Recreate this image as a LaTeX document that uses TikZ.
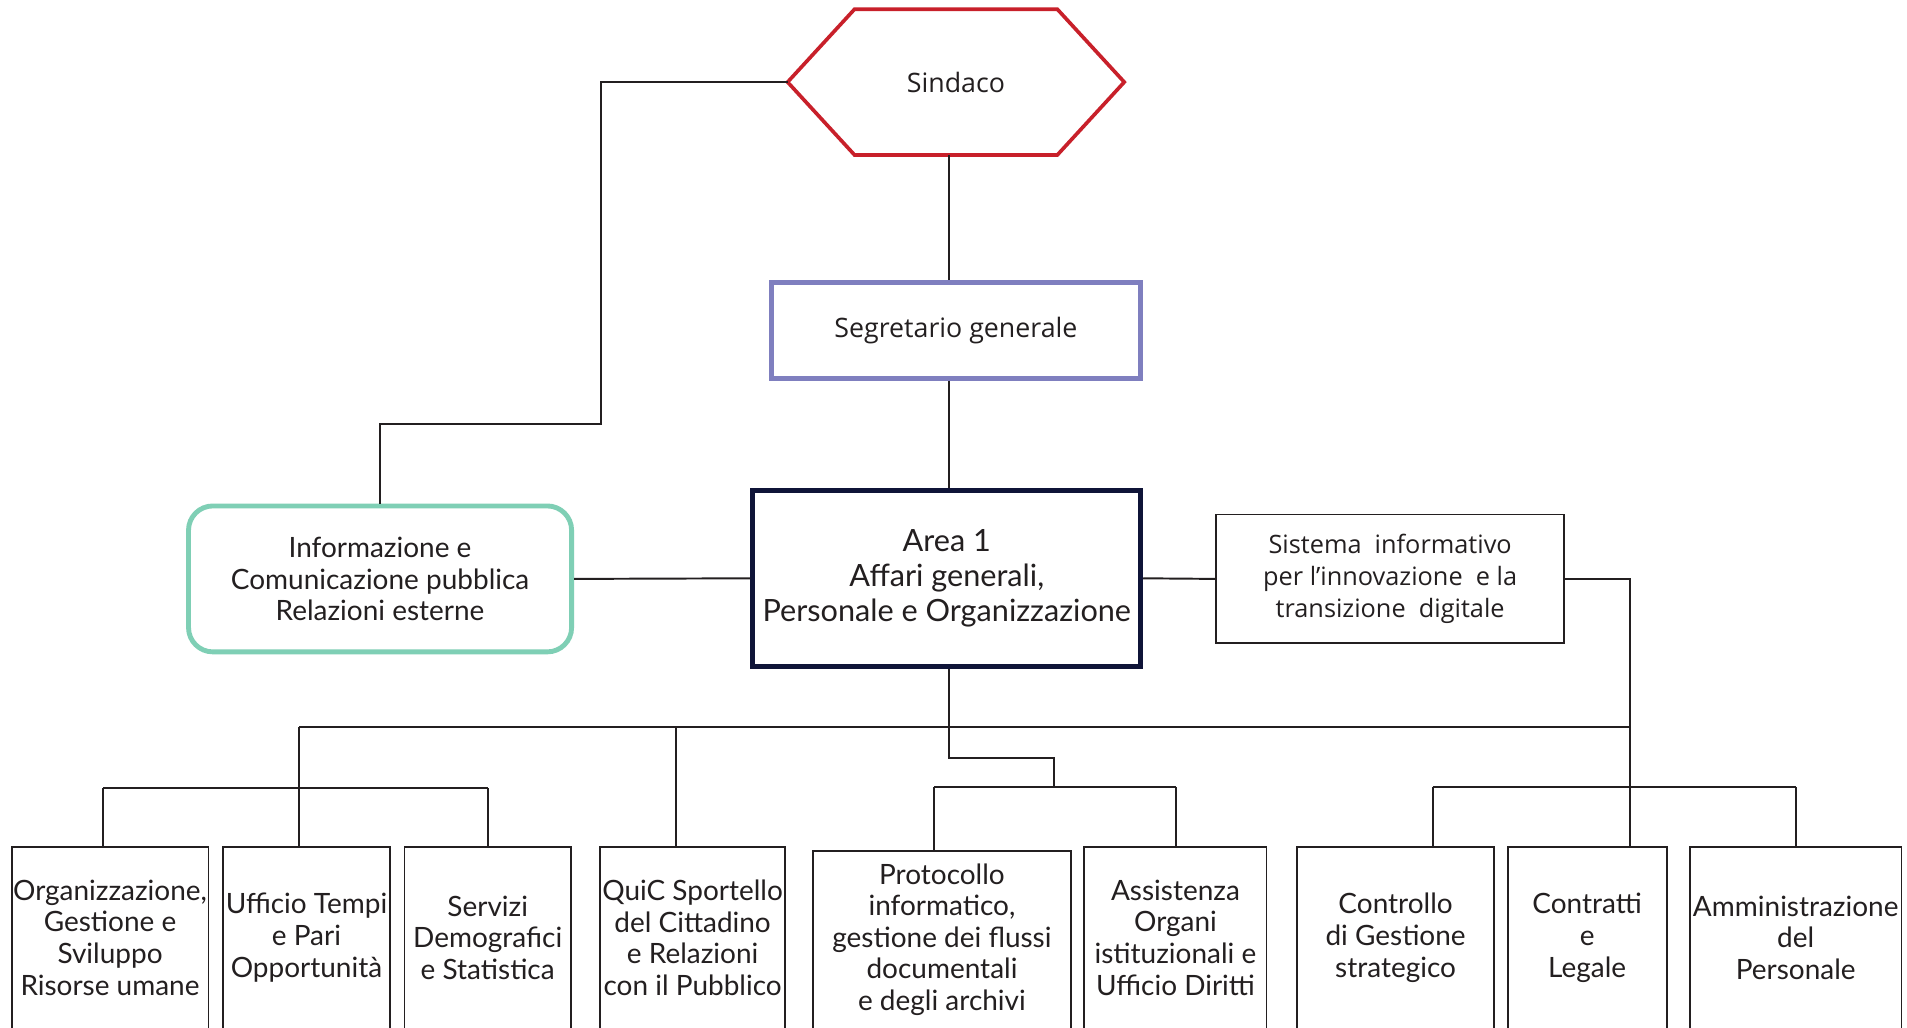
\documentclass[tikz,border=0pt]{standalone}
\usepackage{fontspec}
\setmainfont{Lato}
\newfontfamily\uifont{Open Sans}
\usetikzlibrary{calc}
\definecolor{sindred}{HTML}{C8202A}
\definecolor{segpurple}{HTML}{7F7FBF}
\definecolor{areanavy}{HTML}{0F1438}
\definecolor{infoteal}{HTML}{7FCFB5}
\definecolor{ink}{HTML}{231F20}
\begin{document}
\begin{tikzpicture}[x=0.5pt,y=-0.5pt,
  every node/.style={text=ink, align=center, inner sep=0pt},
  txt/.style={font=\fontsize{11.5pt}{13pt}\selectfont},
  uitxt/.style={font=\uifont\fontsize{11pt}{13pt}\selectfont},
  sistxt/.style={font=\uifont\fontsize{10.4pt}{13pt}\selectfont},
  bigtxt/.style={font=\fontsize{12.6pt}{14.5pt}\selectfont},
  link/.style={draw=ink, line width=0.8pt},
  thinbox/.style={draw=ink, line width=0.75pt},
  lowbox/.style={txt, minimum height=74pt},
]
\clip (0,0) rectangle (1568,845);
\fill[white] (0,0) rectangle (1568,845);

% --- top of the chart ---
\node[uitxt, minimum width=83pt, minimum height=59.5pt] (sindaco) at (786,67.5) {Sindaco};
\coordinate (sindW) at ($(sindaco.west)+(-55,0)$);
\coordinate (sindE) at ($(sindaco.east)+(55,0)$);
\draw[sindred, line width=1.5pt, line join=miter]
  (sindaco.north west) -- (sindaco.north east) -- (sindE) --
  (sindaco.south east) -- (sindaco.south west) -- (sindW) -- cycle;

\node[uitxt, draw=segpurple, line width=2pt, minimum width=152pt, minimum height=39.5pt]
  (segr) at (786,271.5) {Segretario generale};

\node[bigtxt, draw=areanavy, line width=2pt, minimum width=159.5pt, minimum height=72.5pt]
  (area) at (778.5,475.5) {Area 1\\Affari generali,\\Personale e Organizzazione};

\node[txt, draw=infoteal, line width=2pt, rounded corners=10pt, minimum width=157.5pt, minimum height=60pt]
  (info) at (312.5,476) {Informazione e\\Comunicazione pubblica\\Relazioni esterne};

\node[sistxt, thinbox, minimum width=143pt, minimum height=53pt]
  (sis) at (1143,476) {Sistema\ \ informativo\\per l’innovazione\ \ e la\\transizione\ \ digitale};

% --- offices ---
\node[lowbox, minimum width=80.5pt]  (b1) at (90.5,771)  {Organizzazione,\\Gestione e\\Sviluppo\\Risorse umane};
\node[lowbox, minimum width=68pt]    (b2) at (252,771)   {Ufficio Tempi\\e Pari\\Opportunità};
\node[lowbox, minimum width=68pt]    (b3) at (401,771)   {Servizi\\Demografici\\e Statistica};
\node[lowbox, minimum width=75.5pt]  (b4) at (569.5,771) {QuiC Sportello\\del Cittadino\\e Relazioni\\con il Pubblico};
\node[txt, minimum height=72.5pt, minimum width=105.5pt] (b5) at (774.5,772.5) {Protocollo\\informatico,\\gestione dei flussi\\documentali\\e degli archivi};
\node[lowbox, minimum width=74.5pt]  (b6) at (966.5,771) {Assistenza\\Organi\\istituzionali e\\Ufficio Diritti};
\node[lowbox, minimum width=80.5pt]  (b7) at (1147.5,771) {Controllo\\di Gestione\\strategico};
\node[lowbox, minimum width=65pt]    (b8) at (1305,771)  {Contratti\\e\\Legale};
\node[lowbox, minimum width=86.5pt]  (b9) at (1476.5,771) {Amministrazione\\del\\Personale};

% office boxes run off the bottom edge: draw sides and top only
\foreach \b in {b1,b2,b3,b4,b5,b6,b7,b8,b9}
  \draw[thinbox] (\b.south west) |- (\b.north east) -- (\b.south east);

% --- junction points ---
\coordinate (spine) at (780,0);
\coordinate (jog)   at (494,349);
\coordinate (d1) at (85,648);
\coordinate (d2) at (246,598);
\coordinate (d3) at (401,648);
\coordinate (d4) at (556,598);
\coordinate (elbow) at (867,623);
\coordinate (d5) at (768,647);
\coordinate (d6) at (967,647);
\coordinate (d7) at (1178,647);
\coordinate (d8) at (1340,598);
\coordinate (d9) at (1477,647);

% --- connectors ---
\draw[link] (sindW) -| (jog) -| (info.north);
\draw[link] (sindaco.south -| spine) -- (segr.north -| spine);
\draw[link] (segr.south -| spine) -- (area.north -| spine);
\draw[link] (info.east) -- (area.west);
\draw[link] (area.east) -- (sis.west);
\draw[link] (sis.east) -| (b8.north -| d8);

\draw[link] (d2) -- (d8);
\draw[link] (d2) -- (b2.north -| d2);
\draw[link] (d1) -- (d3);
\draw[link] (d1) -- (b1.north -| d1);
\draw[link] (d3) -- (b3.north -| d3);
\draw[link] (d4) -- (b4.north -| d4);

\draw[link] (area.south -| spine) |- (elbow) -- (elbow |- d5);
\draw[link] (d5) -- (d6);
\draw[link] (d5) -- (b5.north -| d5);
\draw[link] (d6) -- (b6.north -| d6);

\draw[link] (d7) -- (d9);
\draw[link] (d7) -- (b7.north -| d7);
\draw[link] (d9) -- (b9.north -| d9);
\end{tikzpicture}
\end{document}
